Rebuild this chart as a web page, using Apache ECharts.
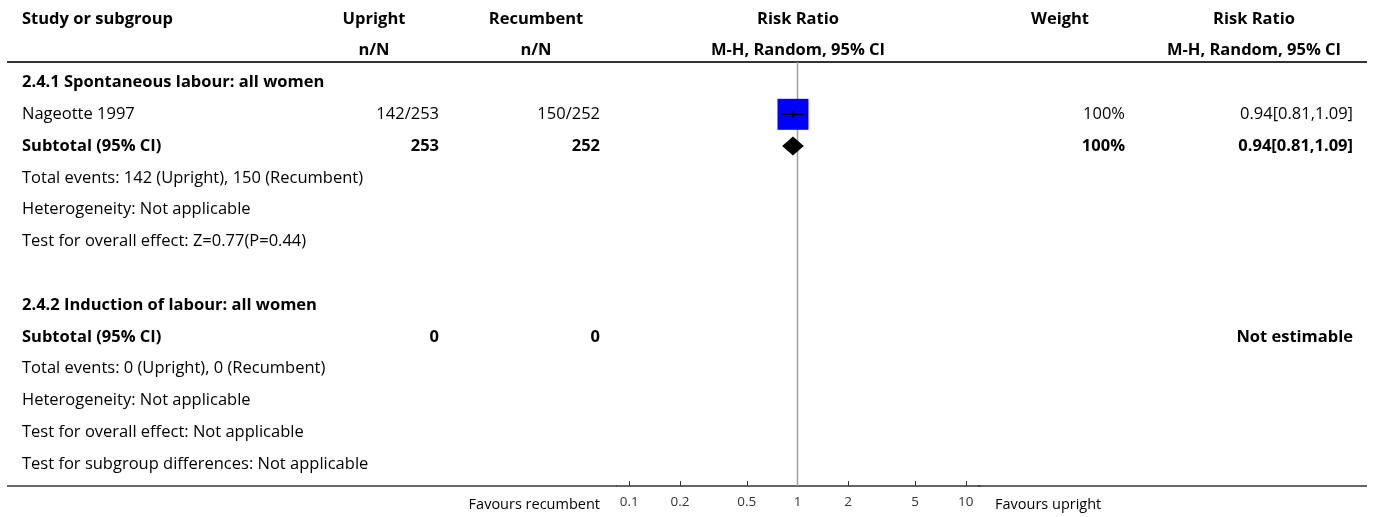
<!DOCTYPE html>
<html>
<head>
<meta charset="utf-8">
<title>Upright vs recumbent: risk ratio</title>
<script src="https://cdn.jsdelivr.net/npm/echarts@6/dist/echarts.min.js"></script>
<style>
  html, body { margin: 0; padding: 0; background: #fff; }
  #chart { width: 1375px; height: 517px; }
</style>
</head>
<body>
<div id="chart"></div>
<script>
// ---- table content ----
const headerTop = ['Study or subgroup', 'Upright', 'Recumbent', 'Risk Ratio', 'Weight', 'Risk Ratio'];
const headerSub = ['', 'n/N', 'n/N', 'M-H, Random, 95% CI', '', 'M-H, Random, 95% CI'];

const rowLabels = [
  '2.4.1 Spontaneous labour: all women',
  'Nageotte 1997',
  'Subtotal (95% CI)',
  'Total events: 142 (Upright), 150 (Recumbent)',
  'Heterogeneity: Not applicable',
  'Test for overall effect: Z=0.77(P=0.44)',
  '',
  '2.4.2 Induction of labour: all women',
  'Subtotal (95% CI)',
  'Total events: 0 (Upright), 0 (Recumbent)',
  'Heterogeneity: Not applicable',
  'Test for overall effect: Not applicable',
  'Test for subgroup differences: Not applicable'
];
const rowBold = [true, false, true, false, false, false, false, true, true, false, false, false, false];
const uprightCol = ['', '142/253', '253', '', '', '', '', '', '0', '', '', '', ''];
const recumbentCol = ['', '150/252', '252', '', '', '', '', '', '0', '', '', '', ''];
const weightCol = ['', '100%', '100%', '', '', '', '', '', '', '', '', '', ''];
const ratioCol = ['', '0.94[0.81,1.09]', '0.94[0.81,1.09]', '', '', '', '', '', 'Not estimable', '', '', '', ''];

// ---- forest plot estimates ----
const studyRows = [1];
const studyEst = [0.94];
const studyLow = [0.81];
const studyHigh = [1.09];
const studyWeight = [100];

const totalRows = [2];
const totalEst = [0.94];
const totalLow = [0.81];
const totalHigh = [1.09];

// ---- x axis ----
const tickValues = [0.1, 0.2, 0.5, 1, 2, 5, 10];
const tickLabels = ['0.1', '0.2', '0.5', '1', '2', '5', '10'];
const favoursLeft = 'Favours recumbent';
const favoursRight = 'Favours upright';

// ---- layout ----
const FONT = '"Open Sans", "Source Sans Pro", sans-serif';
const W = 1375, H = 517;
const PLOT_L = 617, PLOT_R = 980, PLOT_T = 62, AXIS_Y = 486;
const ONE_X = 797.5, DECADE = 168.25;
const ROW0 = 18.9, ROWH = 31.8;          // header row 0 centre and row pitch
const HEAD_ROWS = 2;                     // body rows start after two header rows
const FONT_SIZE = 16.5;
const SQUARE_MAX = 31;
const DIAMOND_HALF = 9.5;

const log10 = Math.log10;
const xMin = (PLOT_L - ONE_X) / DECADE;
const xMax = (PLOT_R - ONE_X) / DECADE;
const yMin = (PLOT_T - ROW0) / ROWH;
const yMax = (AXIS_Y - ROW0) / ROWH;
const tickPos = tickValues.map(log10);

const chart = echarts.init(document.getElementById('chart'), null, { renderer: 'canvas' });

const option = {
  animation: false,
  backgroundColor: '#fff',
  textStyle: { fontFamily: FONT },
  grid: { left: PLOT_L, right: W - PLOT_R, top: PLOT_T, bottom: H - AXIS_Y },
  xAxis: {
    type: 'value',
    min: xMin,
    max: xMax,
    splitLine: { show: false },
    axisLine: { show: true, onZero: false, lineStyle: { color: '#333', width: 1.5 } },
    axisTick: { show: true, inside: true, length: 5, customValues: tickPos, lineStyle: { color: '#333', width: 1 } },
    axisLabel: {
      customValues: tickPos,
      margin: 9,
      fontSize: 13.5,
      color: '#333',
      fontFamily: '"Open Sans", sans-serif',
      formatter: function (v) {
        let best = 0;
        tickPos.forEach(function (p, i) { if (Math.abs(p - v) < Math.abs(tickPos[best] - v)) best = i; });
        return tickLabels[best];
      }
    }
  },
  yAxis: { type: 'value', inverse: true, min: yMin, max: yMax, show: false },
  series: [
    {
      // line of no effect
      type: 'custom',
      z: 1,
      silent: true,
      data: [[0]],
      renderItem: function (params, api) {
        const a = api.coord([0, yMin]);
        const b = api.coord([0, yMax]);
        return { type: 'line', shape: { x1: a[0], y1: a[1], x2: b[0], y2: b[1] }, style: { stroke: '#a0a0a0', lineWidth: 1.5 } };
      }
    },
    {
      // study weight boxes
      type: 'scatter',
      z: 2,
      silent: true,
      symbol: 'rect',
      data: studyRows.map(function (r, i) {
        return { value: [log10(studyEst[i]), r + HEAD_ROWS], symbolSize: SQUARE_MAX * Math.sqrt(studyWeight[i] / 100) };
      }),
      itemStyle: { color: '#0000ff', opacity: 1 }
    },
    {
      // confidence intervals
      type: 'custom',
      z: 3,
      silent: true,
      data: studyRows.map(function (r, i) {
        return [log10(studyLow[i]), log10(studyHigh[i]), log10(studyEst[i]), r + HEAD_ROWS];
      }),
      renderItem: function (params, api) {
        const lo = api.coord([api.value(0), api.value(3)]);
        const hi = api.coord([api.value(1), api.value(3)]);
        const mid = api.coord([api.value(2), api.value(3)]);
        return {
          type: 'group',
          children: [
            { type: 'line', shape: { x1: lo[0], y1: lo[1], x2: hi[0], y2: hi[1] }, style: { stroke: '#000', lineWidth: 1.5 } },
            { type: 'line', shape: { x1: mid[0], y1: mid[1] - 4, x2: mid[0], y2: mid[1] + 4 }, style: { stroke: '#000', lineWidth: 1.5 } }
          ]
        };
      }
    },
    {
      // pooled estimates
      type: 'custom',
      z: 3,
      silent: true,
      data: totalRows.map(function (r, i) {
        return [log10(totalLow[i]), log10(totalHigh[i]), log10(totalEst[i]), r + HEAD_ROWS];
      }),
      renderItem: function (params, api) {
        const lo = api.coord([api.value(0), api.value(3)]);
        const hi = api.coord([api.value(1), api.value(3)]);
        const mid = api.coord([api.value(2), api.value(3)]);
        return {
          type: 'polygon',
          shape: { points: [[lo[0], lo[1]], [mid[0], mid[1] - DIAMOND_HALF], [hi[0], hi[1]], [mid[0], mid[1] + DIAMOND_HALF]] },
          style: { fill: '#000' }
        };
      }
    }
  ]
};

chart.setOption(option);

// ---- table text, aligned to the plot's row scale ----
function rowY(v) { return chart.convertToPixel({ yAxisIndex: 0 }, v); }

const COL_LEFT = 22;
const headCentres = [null, 374, 536, 798, 1060, 1254];
const colRight = { upright: 439, recumbent: 600, weight: 1125, ratio: 1353 };

const texts = [];
function addText(x, y, str, align, bold, size, family, color) {
  if (!str) return;
  texts.push({
    type: 'text', x: x, y: y, silent: true,
    style: {
      text: str, align: align, verticalAlign: 'middle',
      font: (bold ? 'bold ' : '') + (size || FONT_SIZE) + 'px ' + (family || FONT),
      fill: color || '#000'
    }
  });
}

// header
headerTop.forEach(function (t, i) {
  if (i === 0) addText(COL_LEFT, rowY(0), t, 'left', true);
  else addText(headCentres[i], rowY(0), t, 'center', true);
});
headerSub.forEach(function (t, i) {
  if (i > 0) addText(headCentres[i], rowY(1), t, 'center', true);
});

// body
rowLabels.forEach(function (t, r) {
  const y = rowY(r + HEAD_ROWS);
  const b = rowBold[r];
  addText(COL_LEFT, y, t, 'left', b);
  addText(colRight.upright, y, uprightCol[r], 'right', b);
  addText(colRight.recumbent, y, recumbentCol[r], 'right', b);
  addText(colRight.weight, y, weightCol[r], 'right', b);
  addText(colRight.ratio, y, ratioCol[r], 'right', b);
});

// favours labels beside the axis
addText(600, 505, favoursLeft, 'right', false, 14.5);
addText(995, 505, favoursRight, 'left', false, 14.5);

// rules under the header and along the bottom
const rules = [
  { type: 'line', silent: true, shape: { x1: 7, y1: PLOT_T, x2: 1367, y2: PLOT_T }, style: { stroke: '#333', lineWidth: 2 } },
  { type: 'line', silent: true, shape: { x1: 7, y1: AXIS_Y, x2: PLOT_L, y2: AXIS_Y }, style: { stroke: '#333', lineWidth: 1.5 } },
  { type: 'line', silent: true, shape: { x1: PLOT_R - 2, y1: AXIS_Y, x2: 1367, y2: AXIS_Y }, style: { stroke: '#333', lineWidth: 1.5 } }
];

chart.setOption({ graphic: { elements: rules.concat(texts) } });
</script>
</body>
</html>
